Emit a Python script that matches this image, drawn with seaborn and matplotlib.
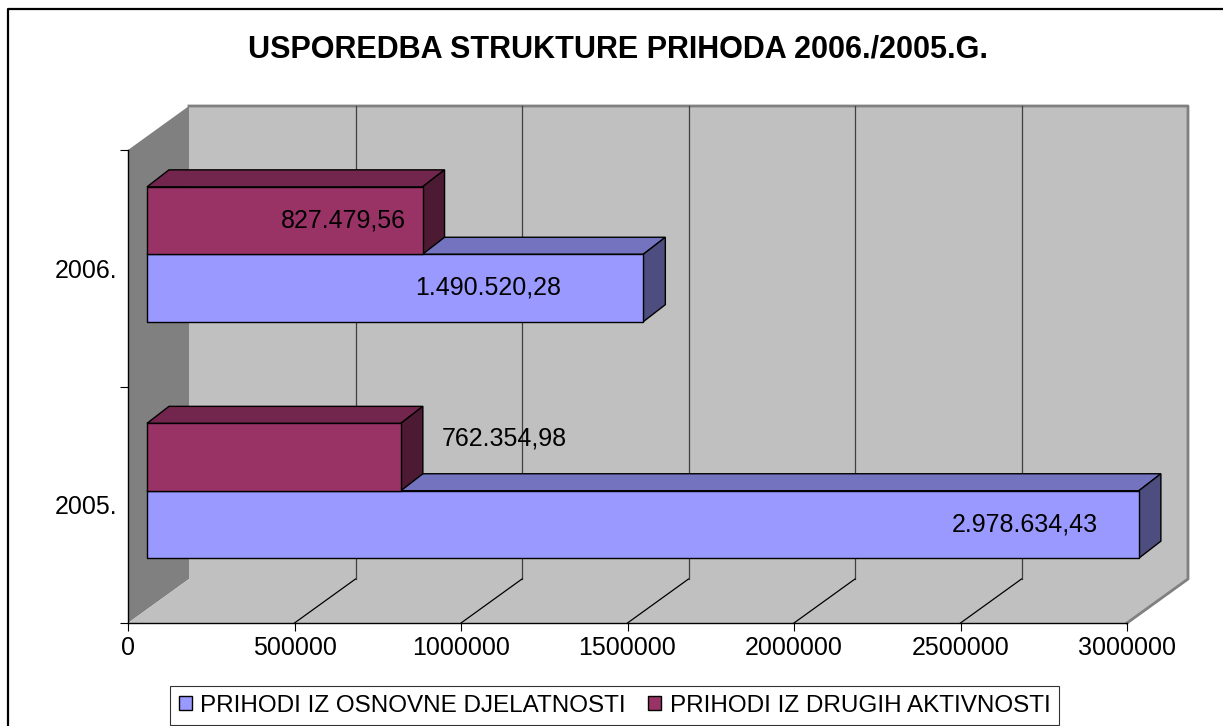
import matplotlib
matplotlib.use("Agg")
import matplotlib.pyplot as plt
import matplotlib.colors as mcolors
from matplotlib.patches import Polygon, Patch
from matplotlib.lines import Line2D
from matplotlib.transforms import IdentityTransform, offset_copy
import pandas as pd
import seaborn as sns

years = ["2005.", "2006."]
series = ["PRIHODI IZ OSNOVNE DJELATNOSTI", "PRIHODI IZ DRUGIH AKTIVNOSTI"]
osnovne = [2978634.43, 1490520.28]
drugih = [762354.98, 827479.56]
xticks = [0, 500000, 1000000, 1500000, 2000000, 2500000, 3000000]

# Excel-like 3D colours: front, top, side
front = {series[0]: "#9999FF", series[1]: "#993366"}
top = {series[0]: "#7373BF", series[1]: "#73264D"}
side = {series[0]: "#4D4D80", series[1]: "#4D1A33"}

# label anchors (where Excel put the value labels), in data units, plus a pixel nudge
label_x = {(series[0], "2005."): 2637000, (series[0], "2006."): 1024000,
           (series[1], "2005."): 1072000, (series[1], "2006."): 589000}
label_dy = {(series[1], "2005."): 19}

df = pd.DataFrame({
    "year": years * 2,
    "series": [series[0]] * 2 + [series[1]] * 2,
    "value": osnovne + drugih,
})

plt.rcParams["font.family"] = ["Liberation Sans", "DejaVu Sans"]

W, H = 1223, 726
fig = plt.figure(figsize=(W / 100, H / 100), dpi=100)
ax = fig.add_axes([128 / W, 103 / H, 999 / W, 473 / H])
ax.set_facecolor("none")

sns.barplot(data=df, x="value", y="year", hue="series", orient="h",
            order=years, hue_order=series, palette=front, width=0.57,
            saturation=1, errorbar=None, legend=False, edgecolor="black",
            linewidth=1, ax=ax)

ax.set_xlim(0, 3000000)
ax.set_ylim(-0.5, 1.5)
ax.set_xlabel("")
ax.set_ylabel("")

# depth offsets in pixels
WALL = (61, 44)
FR = (19, 14)
DEP = (22, 17)

(ax0, ay0), (ax1, ay1) = ax.transAxes.transform([(0, 0), (1, 1)])
ident = IdentityTransform()

def poly(pts, fc, ec="none", lw=0, z=0.5):
    ax.add_artist(Polygon(pts, closed=True, facecolor=fc, edgecolor=ec, linewidth=lw,
                          transform=ident, clip_on=False, zorder=z))

# left wall, floor, back wall
poly([(ax0, ay0), (ax0, ay1), (ax0 + WALL[0], ay1 + WALL[1]), (ax0 + WALL[0], ay0 + WALL[1])], "#808080")
poly([(ax0, ay0), (ax1, ay0), (ax1 + WALL[0], ay0 + WALL[1]), (ax0 + WALL[0], ay0 + WALL[1])], "#C0C0C0")
poly([(ax0 + WALL[0], ay0 + WALL[1]), (ax1 + WALL[0], ay0 + WALL[1]),
      (ax1 + WALL[0], ay1 + WALL[1]), (ax0 + WALL[0], ay1 + WALL[1])], "#C0C0C0")
# wall edges
ax.add_artist(Line2D([ax0 + WALL[0], ax1 + WALL[0], ax1 + WALL[0], ax1],
                     [ay1 + WALL[1], ay1 + WALL[1], ay0 + WALL[1], ay0],
                     color="#808080", lw=2, transform=ident, clip_on=False, zorder=0.6))

for t in xticks:
    px = ax.transData.transform((t, 0))[0]
    if 0 < t < xticks[-1]:
        ax.add_artist(Line2D([px + WALL[0]] * 2, [ay0 + WALL[1], ay1 + WALL[1]],
                             color="#404040", lw=0.9, transform=ident, clip_on=False, zorder=0.7))
        ax.add_artist(Line2D([px, px + WALL[0]], [ay0, ay0 + WALL[1]],
                             color="black", lw=0.9, transform=ident, clip_on=False, zorder=0.7))

# shift bars into the 3D box and give them depth
shift = offset_copy(ax.transData, fig=fig, x=FR[0], y=FR[1], units="dots")
hexmap = {mcolors.to_hex(v): k for k, v in front.items()}
bars = []
for p in ax.patches:
    s = hexmap.get(mcolors.to_hex(p.get_facecolor()))
    if s is None:
        continue
    p.set_transform(shift)
    p.set_clip_on(False)
    p.set_zorder(3)
    bars.append((series.index(s), s, p))

for _, s, p in sorted(bars, key=lambda b: b[0]):
    x0, y0 = p.get_x(), p.get_y()
    x1, y1 = x0 + p.get_width(), y0 + p.get_height()
    (dx0, dy0), (dx1, dy1) = ax.transData.transform([(x0, y0), (x1, y1)])
    dx0, dx1 = dx0 + FR[0], dx1 + FR[0]
    dy0, dy1 = dy0 + FR[1], dy1 + FR[1]
    z = 1.5 + series.index(s) * 0.1
    poly([(dx0, dy1), (dx1, dy1), (dx1 + DEP[0], dy1 + DEP[1]), (dx0 + DEP[0], dy1 + DEP[1])],
         top[s], "black", 1, z)
    poly([(dx1, dy0), (dx1, dy1), (dx1 + DEP[0], dy1 + DEP[1]), (dx1 + DEP[0], dy0 + DEP[1])],
         side[s], "black", 1, z)

def hr(v):
    return f"{v:,.2f}".replace(",", "X").replace(".", ",").replace("X", ".")

for i, y in enumerate(years):
    for j, s in enumerate(series):
        v = (osnovne, drugih)[j][i]
        yc = i + (j - 0.5) * 0.57 / 2
        tr = offset_copy(ax.transData, fig=fig, x=FR[0], y=FR[1] + label_dy.get((s, y), 0), units="dots")
        ax.text(label_x[(s, y)], yc, hr(v), transform=tr, ha="center", va="center",
                fontsize=18, color="black", zorder=5, clip_on=False)

# axes, ticks
for sp in ["top", "right"]:
    ax.spines[sp].set_visible(False)
for sp in ["left", "bottom"]:
    ax.spines[sp].set_color("black")
    ax.spines[sp].set_linewidth(1)
    ax.spines[sp].set_zorder(2.5)

ax.set_xticks(xticks)
ax.set_xticklabels([str(t) for t in xticks], fontsize=18)
ax.tick_params(axis="x", direction="out", length=5.5, width=0.8, pad=4, colors="black")
ax.set_yticks([-0.5, 0.5, 1.5])
ax.set_yticklabels([])
ax.set_yticks([0, 1], minor=True)
ax.set_yticklabels(years, minor=True, fontsize=18)
ax.tick_params(axis="y", which="major", direction="out", length=5.8, width=0.8)
ax.tick_params(axis="y", which="minor", length=0, pad=7.5)

fig.text(618 / W, 1 - 50 / H, "USPOREDBA STRUKTURE PRIHODA 2006./2005.G.",
         ha="center", va="center", fontsize=22, fontweight="bold")

handles = [Patch(facecolor=front[s], edgecolor="black", linewidth=1, label=s) for s in series]
leg = fig.legend(handles=handles, loc="upper left", bbox_to_anchor=(170 / W, 1 - 686 / H),
                 ncol=2, fontsize=17.5, frameon=True, fancybox=False, handlelength=0.55,
                 handleheight=0.55, handletextpad=0.35, columnspacing=0.9,
                 borderpad=0.35, borderaxespad=0)
leg.get_frame().set_edgecolor("black")
leg.get_frame().set_linewidth(0.8)

# chart area border
fig.add_artist(Line2D([8 / W, 8 / W, 1.01], [-0.01, 1 - 9 / H, 1 - 9 / H],
                      color="black", lw=1.6, transform=fig.transFigure))

fig.savefig("out.png", dpi=100)
